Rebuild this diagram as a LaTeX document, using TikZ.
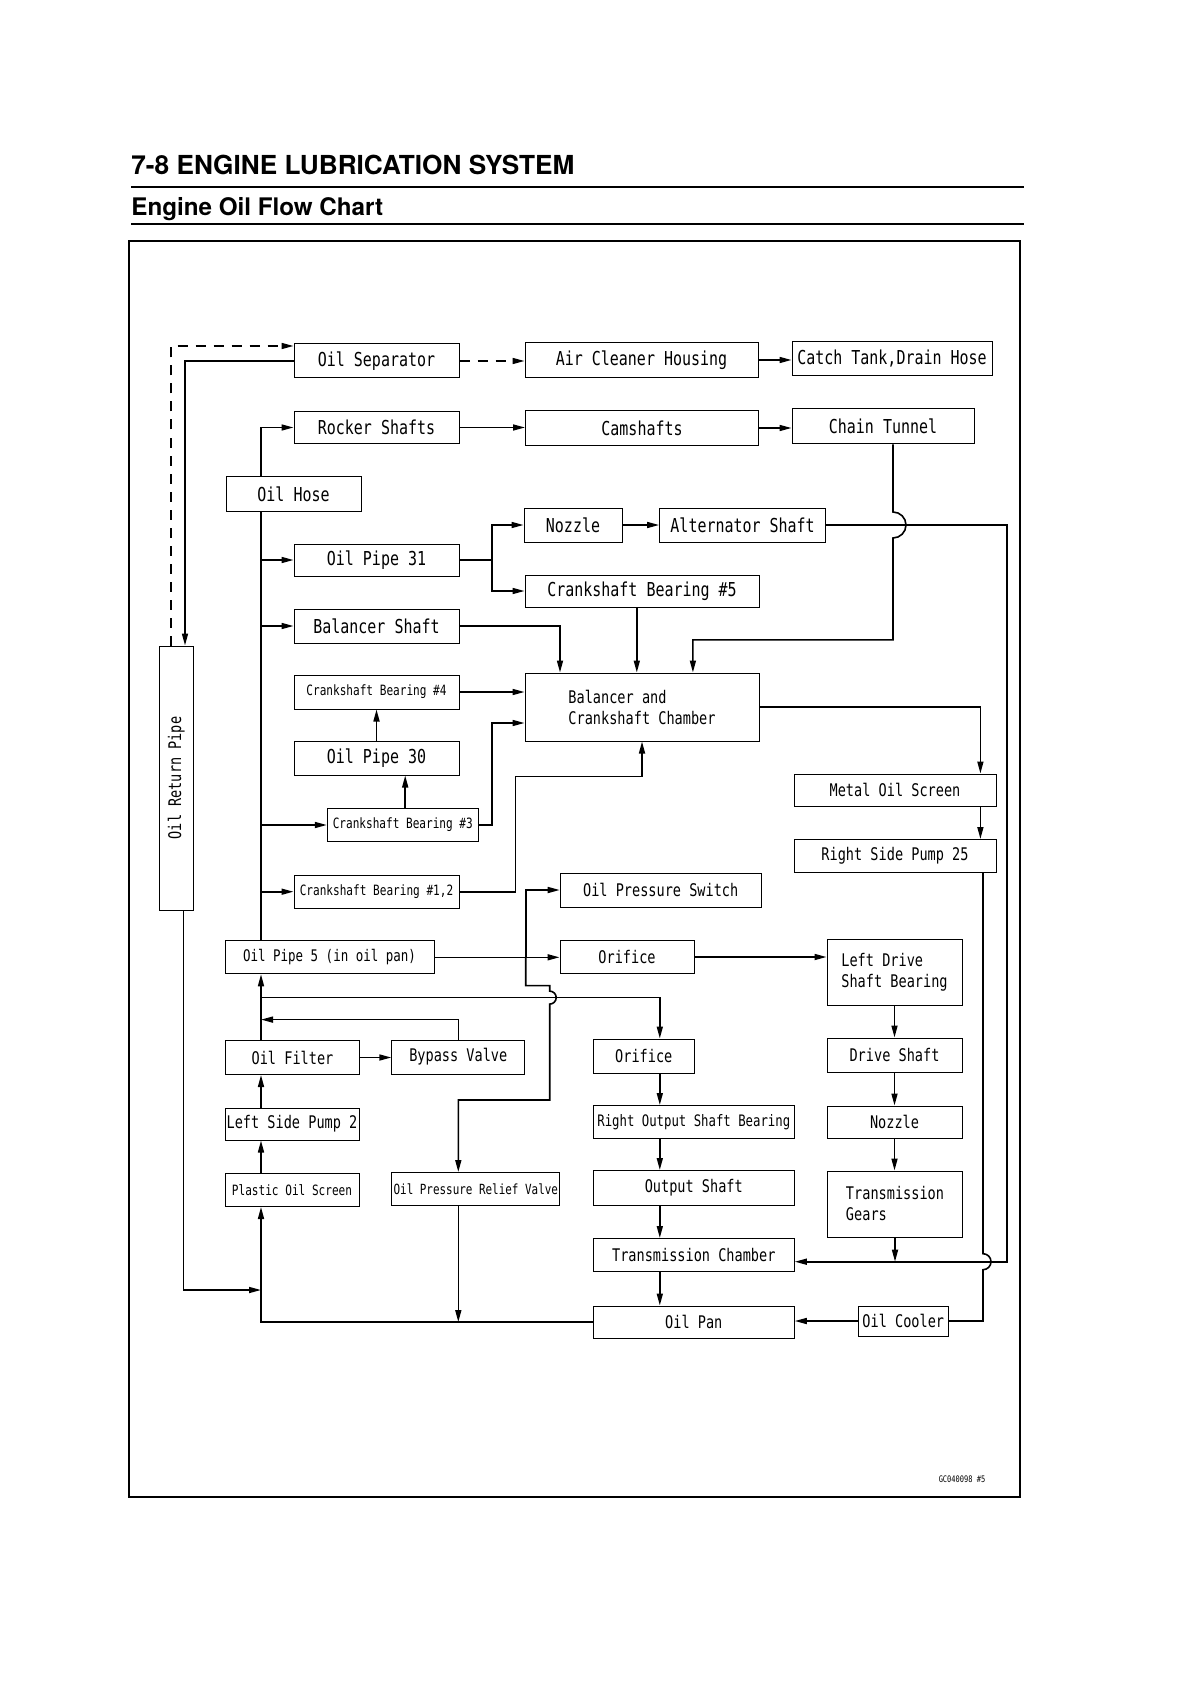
\documentclass[tikz,border=0pt]{standalone}
\usepackage{fontspec}
\setmonofont[FakeStretch=0.78]{DejaVu Sans Mono}
\newfontfamily\headfont{TeX Gyre Heros}
\usetikzlibrary{calc,arrows.meta}

\newcommand{\bigtxt}{\ttfamily\fontsize{9.6}{11}\selectfont}
\newcommand{\midtxt}{\ttfamily\fontsize{8.7}{10.5}\selectfont}
\newcommand{\smalltxt}{\ttfamily\fontsize{7.1}{9}\selectfont}

\tikzset{
  box/.style={draw, line width=0.5pt, inner sep=0pt, align=center},
  flow/.style={line width=0.8pt},
  arr/.style={flow, -{Triangle[length=6pt,width=3pt]}},
  breather/.style={arr, dash pattern=on 5pt off 4pt},
}

\begin{document}
\begin{tikzpicture}[x=0.5pt, y=-0.5pt]
  \useasboundingbox (0,0) rectangle (1190,1684);

  % Page heading and frame
  \node[anchor=base west, inner sep=0pt, font=\headfont\bfseries\fontsize{13.1}{15}\selectfont] (title) at (131,175) {7-8 ENGINE LUBRICATION SYSTEM};
  \draw[line width=0.8pt] (131,187) -- (1024,187);
  \node[anchor=base west, inner sep=0pt, font=\headfont\bfseries\fontsize{12.1}{14}\selectfont] (subtitle) at (131,216) {Engine Oil Flow Chart};
  \draw[line width=0.8pt] (131,224) -- (1024,224);
  \draw[line width=0.9pt] (129,241) rectangle (1020,1497);
  \node[font=\ttfamily\fontsize{4.5}{5}\selectfont] (ref) at (962,1479) {GC040098 \#5};

  % Upper rows
  \node[box, minimum width=82.5pt, minimum height=17pt, font=\bigtxt] (oilsep) at (376.5,361) {Oil Separator};
  \node[box, minimum width=116.5pt, minimum height=17.5pt, font=\bigtxt] (aircl) at (641.5,360) {Air Cleaner Housing};
  \node[box, minimum width=100pt, minimum height=17pt, font=\bigtxt] (catch) at (892,359) {Catch Tank,Drain Hose};
  \node[box, minimum width=82.5pt, minimum height=16pt, font=\bigtxt] (rocker) at (376.5,427.5) {Rocker Shafts};
  \node[box, minimum width=116.5pt, minimum height=17.5pt, font=\bigtxt] (camsh) at (642,428) {Camshafts};
  \node[box, minimum width=91pt, minimum height=17.5pt, font=\bigtxt] (chain) at (883,426.5) {Chain Tunnel};
  \node[box, minimum width=67.5pt, minimum height=17.5pt, font=\bigtxt] (hose) at (293.5,494) {Oil Hose};
  \node[box, minimum width=49pt, minimum height=17pt, font=\bigtxt] (nozzle1) at (573,525) {Nozzle};
  \node[box, minimum width=83pt, minimum height=17pt, font=\bigtxt] (altsh) at (742.6,525) {Alternator Shaft};
  \node[box, minimum width=82.5pt, minimum height=16pt, font=\bigtxt] (pipe31) at (376.5,560) {Oil Pipe 31};
  \node[box, minimum width=117pt, minimum height=16pt, font=\bigtxt] (crank5) at (642,591) {Crankshaft Bearing \#5};
  \node[box, minimum width=82.5pt, minimum height=17pt, font=\bigtxt] (balsh) at (376.5,626) {Balancer Shaft};

  % Crankcase
  \node[box, rotate=90, minimum width=132pt, minimum height=17pt, font=\midtxt] (retpipe) at (176.3,778) {Oil Return Pipe};
  \node[box, minimum width=82.5pt, minimum height=17pt, font=\smalltxt] (crank4) at (376.5,692) {Crankshaft Bearing \#4};
  \node[box, minimum width=117pt, minimum height=34pt, font=\midtxt, align=left] (chamber) at (642,707) {Balancer and\\Crankshaft Chamber};
  \node[box, minimum width=82.5pt, minimum height=17pt, font=\bigtxt] (pipe30) at (376.5,758) {Oil Pipe 30};
  \node[box, minimum width=101pt, minimum height=16pt, font=\midtxt] (metscr) at (895,790) {Metal Oil Screen};
  \node[box, minimum width=75.5pt, minimum height=16.5pt, font=\smalltxt] (crank3) at (402.8,825) {Crankshaft Bearing \#3};
  \node[box, minimum width=101pt, minimum height=16.5pt, font=\midtxt] (rpump) at (895,856) {Right Side Pump 25};
  \node[box, minimum width=82.5pt, minimum height=16.5pt, font=\smalltxt] (crank12) at (376.5,891.7) {Crankshaft Bearing \#1,2};
  \node[box, minimum width=100.5pt, minimum height=17pt, font=\midtxt] (psw) at (660.7,890) {Oil Pressure Switch};

  % Oil pan level
  \node[box, minimum width=104.5pt, minimum height=16.5pt, font=\ttfamily\fontsize{8}{9}\selectfont] (pipe5) at (329.5,957.3) {Oil Pipe 5 (in oil pan)};
  \node[box, minimum width=67pt, minimum height=16.5pt, font=\midtxt] (orif1) at (627,957) {Orifice};
  \node[box, minimum width=67.5pt, minimum height=33pt, font=\midtxt, align=left] (ldsb) at (894.5,972.5) {Left Drive\\Shaft Bearing};
  \node[box, minimum width=67pt, minimum height=17pt, font=\midtxt] (filter) at (292.5,1057.5) {Oil Filter};
  \node[box, minimum width=66.5pt, minimum height=17pt, font=\midtxt] (bypass) at (458.3,1057) {Bypass Valve};
  \node[box, minimum width=50.5pt, minimum height=17pt, font=\midtxt] (orif2) at (643.8,1056) {Orifice};
  \node[box, minimum width=67.5pt, minimum height=17pt, font=\midtxt] (drvsh) at (894.5,1055) {Drive Shaft};
  \node[box, minimum width=67pt, minimum height=16pt, font=\midtxt] (lpump) at (292,1124) {Left Side Pump 2};
  \node[box, minimum width=100.5pt, minimum height=16.5pt, font=\ttfamily\fontsize{7.9}{9}\selectfont] (rosb) at (693.8,1122) {Right Output Shaft Bearing};
  \node[box, minimum width=67.5pt, minimum height=16pt, font=\midtxt] (nozzle2) at (894.5,1122) {Nozzle};
  \node[box, minimum width=67pt, minimum height=16.5pt, font=\smalltxt] (plscr) at (292,1190) {Plastic Oil Screen};
  \node[box, minimum width=84pt, minimum height=16.5pt, font=\ttfamily\fontsize{7}{9}\selectfont] (relief) at (475.8,1189) {Oil Pressure Relief Valve};
  \node[box, minimum width=100.5pt, minimum height=17.5pt, font=\midtxt] (outsh) at (693.8,1188) {Output Shaft};
  \node[box, minimum width=67.5pt, minimum height=33pt, font=\midtxt, align=left] (trgears) at (895,1204) {Transmission\\Gears};
  \node[box, minimum width=100.5pt, minimum height=16.5pt, font=\midtxt] (trch) at (693.8,1255) {Transmission Chamber};
  \node[box, minimum width=100.5pt, minimum height=16pt, font=\midtxt] (oilpan) at (693.8,1322) {Oil Pan};
  \node[box, minimum width=45pt, minimum height=15pt, font=\midtxt] (cooler) at (903.3,1321) {Oil Cooler};

  % helper points on the lines
  \coordinate (trunk) at ([xshift=-16.25pt]hose.center);
  \coordinate (gal) at ($(trunk |- filter.north)+(0,-42.4)$);
  \coordinate (p31) at ([xshift=16.35pt]pipe31.east);
  \coordinate (ct) at ([xshift=5pt]chain.south);
  \coordinate (ps) at ($(psw.west)+(-34,0)$);
  \coordinate (mc) at ($(orif2.south)+(16,0)$);
  \coordinate (rp) at ($(rpump.south)+(88,0)$);
  \coordinate (tin) at ($(trch.east)+(0,6.7)$);
  \coordinate (rv) at ($(relief.south)+(-17.5,0)$);

  % Breather and return
  \draw[breather] ([xshift=-2.65pt]retpipe.east) |- ([yshift=7.5pt]oilsep.west);
  \draw[breather] (oilsep.east) -- (oilsep.east -| aircl.west);
  \draw[arr] (aircl.east) -- (aircl.east -| catch.west);
  \draw[arr] (oilsep.west) -| ([xshift=4.35pt]retpipe.east);
  \draw[arr] ([xshift=3.5pt]retpipe.west) |- ($(trunk |- oilpan.west)+(0,-32)$);

  % Main trunk up to the head
  \draw[arr] (trunk |- hose.north) |- (rocker.west);
  \draw[flow] (trunk |- hose.south) -- (trunk |- pipe5.north);
  \draw[arr] (trunk |- pipe31.west) -- (pipe31.west);
  \draw[arr] (trunk |- balsh.west) -- (balsh.west);
  \draw[arr] (trunk |- crank3.west) -- (crank3.west);
  \draw[arr] (trunk |- crank12.west) -- (crank12.west);
  \draw[arr] (rocker.east) -- (rocker.east -| camsh.west);
  \draw[arr] (camsh.east) -- (camsh.east -| chain.west);

  % Oil pipe 31 split
  \draw[flow] (pipe31.east) -- (p31);
  \draw[arr] (p31) |- (nozzle1.west);
  \draw[arr] (p31) |- (crank5.west);
  \draw[arr] (nozzle1.east) -- (nozzle1.east -| altsh.west);

  % Into the balancer and crankshaft chamber
  \draw[arr] (balsh.east) -| ([xshift=-41pt]chamber.north);
  \draw[arr] ([xshift=-2.6pt]crank5.south) -- ([xshift=-2.6pt]chamber.north);
  \draw[arr] (ct) -- ($(ct |- altsh.east)+(0,-13)$) arc[start angle=90, end angle=-90, radius=6.5pt]
    -- ($(ct |- chamber.north)+(0,-32.6)$) -| ([xshift=25.45pt]chamber.north);
  \draw[arr] (crank4.east) -- (crank4.east -| chamber.west);
  \draw[arr] ([xshift=1.2pt]crank3.north) -- ([xshift=1.2pt]crank3.north |- pipe30.south);
  \draw[arr] (pipe30.north) -- (crank4.south);
  \draw[arr] (crank3.east) -- ++(6.7pt,0) |- ($(chamber.west)+(0,16)$);
  \draw[arr] (crank12.east) -- ++(28pt,0) |- ($(chamber.south)+(0,35)$) -- (chamber.south);

  % Right side pump circuit
  \draw[arr] (chamber.east) -| ([xshift=42.7pt]metscr.north);
  \draw[arr] ([xshift=42.7pt]metscr.south) -- ([xshift=42.7pt]rpump.north);
  \draw[arr] (altsh.east) -- ($(altsh.east)+(181,0)$) |- (tin);
  \draw[flow] (rp) -- ($(rp |- tin)+(0,-8)$) arc[start angle=90, end angle=-90, radius=4pt]
    -- (rp |- cooler.east) -- (cooler.east);
  \draw[arr] (cooler.west) -- (cooler.west -| oilpan.east);

  % Left side pump circuit
  \draw[arr] (trunk |- plscr.north) -- (trunk |- lpump.south);
  \draw[arr] (trunk |- lpump.north) -- (trunk |- filter.south);
  \draw[arr] (trunk |- filter.north) -- (trunk |- pipe5.south);
  \draw[arr] (filter.east) -- (filter.east -| bypass.west);
  \draw[arr] (bypass.north) |- ($(gal)+(0,22)$);
  \draw[arr] (gal) -| (mc |- orif2.north);
  \draw[arr] (pipe5.east) -- (pipe5.east -| orif1.west);
  \draw[arr] (orif1.east) -- (orif1.east -| ldsb.west);
  \draw[arr] (ps |- pipe5.east) |- (psw.west);
  \draw[arr] (ps |- pipe5.east) -- ($(ps |- gal)+(0,-12)$) -- ($(ps |- gal)+(24,-12)$)
    -- ($(ps |- gal)+(24,-6.5)$) arc[start angle=90, end angle=-90, radius=3.25pt]
    -- ($(ps |- relief.north)+(24,-72)$) -| ($(relief.north)+(-17.5,0)$);
  \draw[arr] (rv) -- (rv |- oilpan.west);
  \draw[arr] (oilpan.west) -| (trunk |- plscr.south);

  % Transmission side
  \draw[arr] (mc |- orif2.south) -- (mc |- rosb.north);
  \draw[arr] (mc |- rosb.south) -- (mc |- outsh.north);
  \draw[arr] (mc |- outsh.south) -- (mc |- trch.north);
  \draw[arr] (mc |- trch.south) -- (mc |- oilpan.north);
  \draw[arr] (ldsb.south) -- (ldsb.south |- drvsh.north);
  \draw[arr] (drvsh.south) -- (drvsh.south |- nozzle2.north);
  \draw[arr] (nozzle2.south) -- (nozzle2.south |- trgears.north);
  \draw[arr] (trgears.south) -- (trgears.south |- tin);
\end{tikzpicture}
\end{document}
